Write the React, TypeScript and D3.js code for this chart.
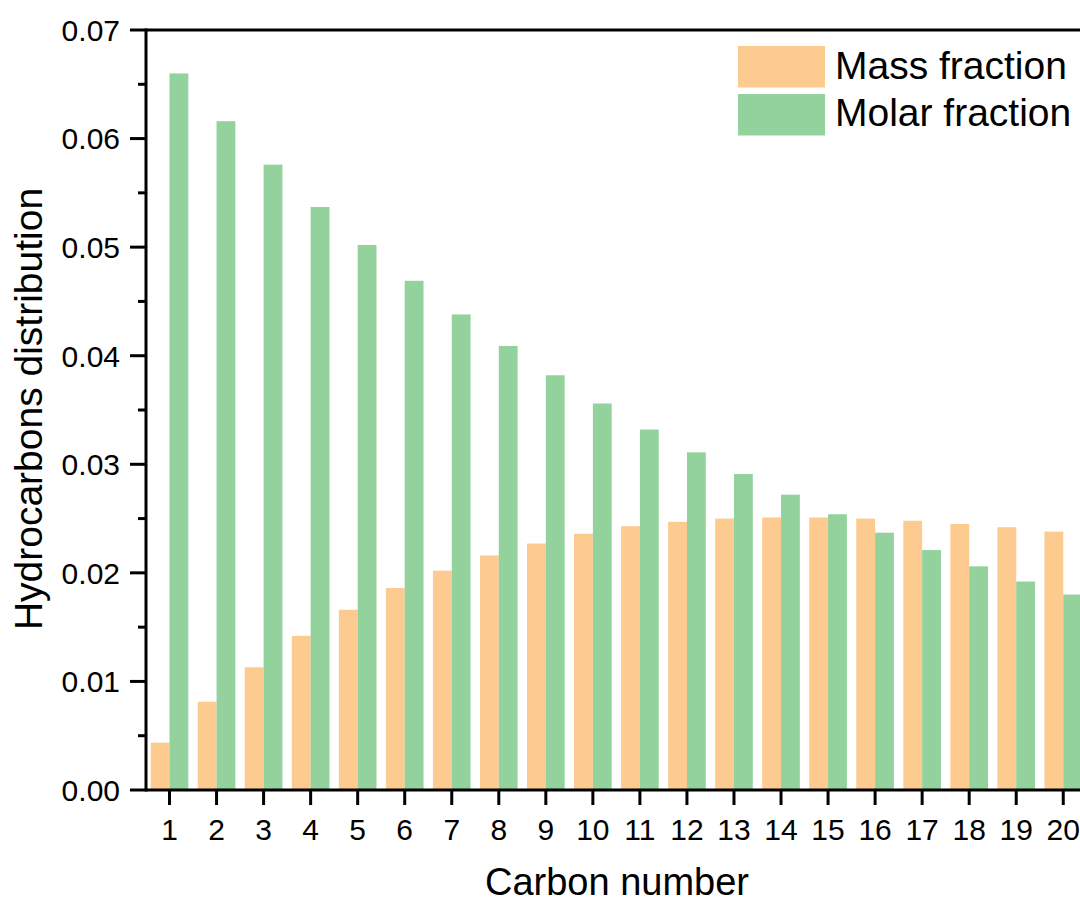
import React from "react";
import * as d3 from "d3";

const carbonNumbers = [1, 2, 3, 4, 5, 6, 7, 8, 9, 10, 11, 12, 13, 14, 15, 16, 17, 18, 19, 20];
const massFraction = [0.00436, 0.00813, 0.0113, 0.0142, 0.0166, 0.0186, 0.0202, 0.0216, 0.0227, 0.0236, 0.0243, 0.0247, 0.025, 0.0251, 0.0251, 0.025, 0.0248, 0.0245, 0.0242, 0.0238];
const molarFraction = [0.066, 0.0616, 0.0576, 0.0537, 0.0502, 0.0469, 0.0438, 0.0409, 0.0382, 0.0356, 0.0332, 0.0311, 0.0291, 0.0272, 0.0254, 0.0237, 0.0221, 0.0206, 0.0192, 0.018];
const yTicks = [0, 0.01, 0.02, 0.03, 0.04, 0.05, 0.06, 0.07];
const yMinorTicks = [0.005, 0.015, 0.025, 0.035, 0.045, 0.055, 0.065];
const seriesNames = ["Mass fraction", "Molar fraction"];
const colors = ["#FDCA8F", "#93D29C"];

const FONT = "Arial, 'Liberation Sans', Helvetica, sans-serif";

export default function App() {
  const W = 1080, H = 902;
  const left = 146, top = 30, bottom = 790;
  const x = d3.scaleLinear().domain([0.5, 20.5]).range([left, 169.3 + 19.5 * 47.05]);
  const y = d3.scaleLinear().domain([0, 0.07]).range([bottom, top]);
  const step = x(2) - x(1);
  const barW = step * 0.4;
  const right = x(20.5);

  return (
    <svg width={W} height={H} style={{ position: "absolute", left: 0, top: 0, background: "#fff" }}>
      {carbonNumbers.map((c, i) => (
        <g key={c}>
          <rect x={x(c) - barW} y={y(massFraction[i])} width={barW} height={bottom - y(massFraction[i])} fill={colors[0]} />
          <rect x={x(c)} y={y(molarFraction[i])} width={barW} height={bottom - y(molarFraction[i])} fill={colors[1]} />
        </g>
      ))}
      {/* axes */}
      <line x1={left} x2={right} y1={top} y2={top} stroke="#000" strokeWidth={3} />
      <line x1={left} x2={right} y1={bottom} y2={bottom} stroke="#000" strokeWidth={3} />
      <line x1={left} x2={left} y1={top - 1.5} y2={bottom + 1.5} stroke="#000" strokeWidth={3} />
      {yTicks.map((t) => (
        <g key={t}>
          <line x1={left - 16} x2={left} y1={y(t)} y2={y(t)} stroke="#000" strokeWidth={3} />
          <text x={120} y={y(t)} dy="0.36em" textAnchor="end" fontFamily={FONT} fontSize={30} fill="#000">
            {t.toFixed(2)}
          </text>
        </g>
      ))}
      {yMinorTicks.map((t) => (
        <line key={t} x1={left - 8} x2={left} y1={y(t)} y2={y(t)} stroke="#000" strokeWidth={3} />
      ))}
      {carbonNumbers.map((c) => (
        <g key={c}>
          <line x1={x(c)} x2={x(c)} y1={bottom} y2={bottom + 15} stroke="#000" strokeWidth={3} />
          <text x={x(c)} y={840} textAnchor="middle" fontFamily={FONT} fontSize={30} fill="#000">
            {c}
          </text>
        </g>
      ))}
      <text x={617} y={895} textAnchor="middle" fontFamily={FONT} fontSize={38} fill="#000">
        Carbon number
      </text>
      <text transform={`translate(42, 409) rotate(-90)`} textAnchor="middle" fontFamily={FONT} fontSize={39} fill="#000">
        Hydrocarbons distribution
      </text>
      {/* legend */}
      {seriesNames.map((s, i) => (
        <g key={s}>
          <rect x={738} y={46 + i * 48} width={87} height={41.5} fill={colors[i]} />
          <text x={835} y={79 + i * 47} fontFamily={FONT} fontSize={39} fill="#000">
            {s}
          </text>
        </g>
      ))}
    </svg>
  );
}
